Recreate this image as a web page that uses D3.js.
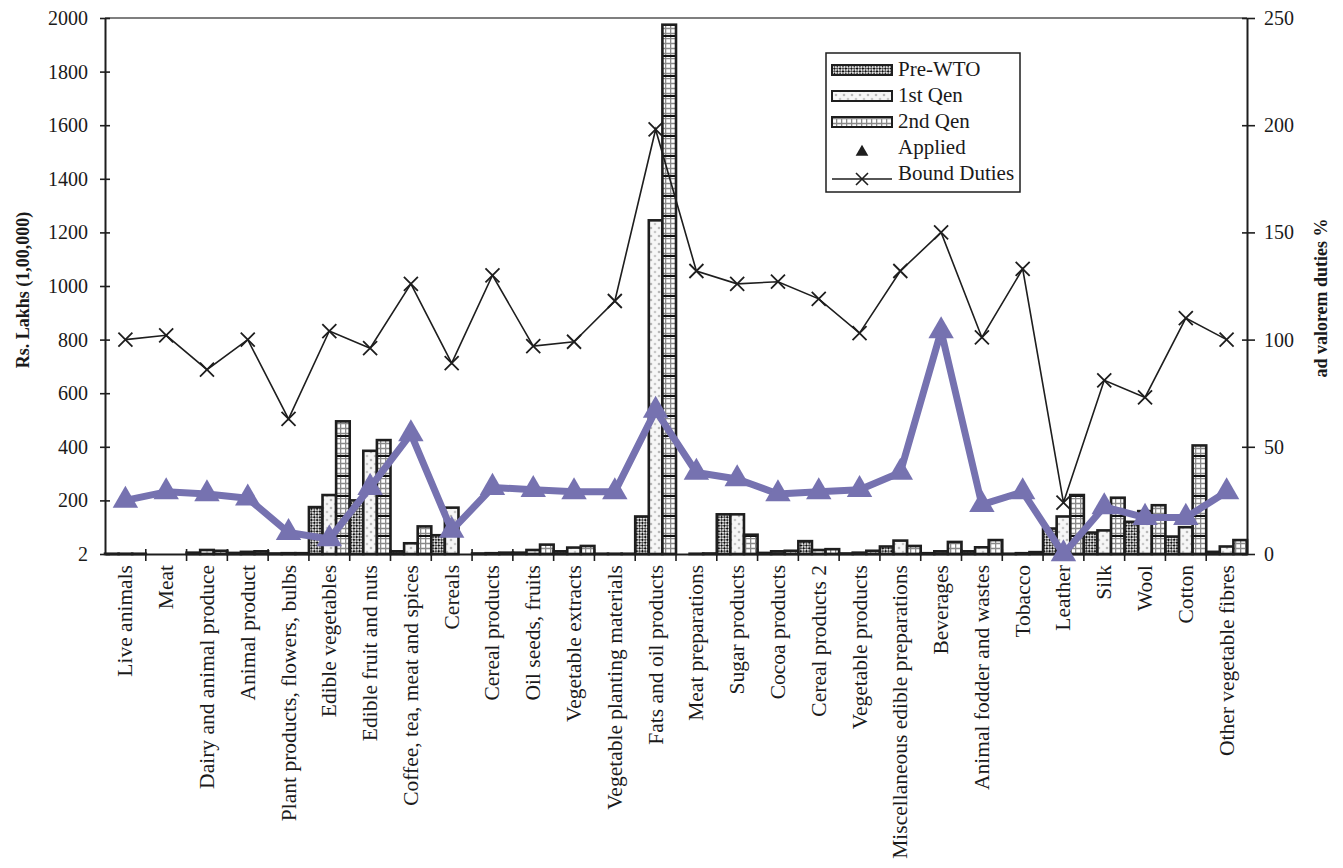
<!DOCTYPE html>
<html>
<head>
<meta charset="utf-8">
<script src="https://cdn.jsdelivr.net/npm/d3@7"></script>
<style>
  body { margin: 0; background: #fff; }
  svg text { font-family: "Liberation Serif", "Times New Roman", serif; fill: #1a1a1a; }
</style>
</head>
<body>
<div id="chart"></div>
<script>
// categories along the x axis
var categories = ['Live animals', 'Meat', 'Dairy and animal produce', 'Animal product',
  'Plant products, flowers, bulbs', 'Edible vegetables', 'Edible fruit and nuts',
  'Coffee, tea, meat and spices', 'Cereals', 'Cereal products', 'Oil seeds, fruits',
  'Vegetable extracts', 'Vegetable planting materials', 'Fats and oil products',
  'Meat preparations', 'Sugar products', 'Cocoa products', 'Cereal products 2',
  'Vegetable products', 'Miscellaneous edible preparations', 'Beverages',
  'Animal fodder and wastes', 'Tobacco', 'Leather', 'Silk', 'Wool', 'Cotton',
  'Other vegetable fibres'];

// Rs. Lakhs (left axis)
var preWTO = [1, 0, 5, 4, 2, 175, 200, 10, 70, 2, 5, 10, 1, 140, 0, 148, 4, 48, 2, 28, 3, 10, 1, 95, 80, 120, 65, 8];
var firstQen = [1, 0, 15, 8, 3, 220, 385, 40, 173, 3, 15, 24, 1, 1245, 1, 148, 10, 15, 5, 50, 10, 25, 3, 140, 88, 160, 100, 28];
var secondQen = [1, 0, 12, 10, 3, 495, 425, 103, 0, 5, 35, 30, 1, 1975, 2, 72, 12, 18, 12, 30, 45, 52, 7, 220, 210, 182, 405, 52];

// ad valorem duties % (right axis)
var applied = [25, 29, 28, 26, 10, 7, 31, 56, 11, 31, 30, 29, 29, 67, 38, 35, 28, 29, 30, 38, 104, 23, 29, 0, 22, 17, 17, 29];
var bound = [100, 102, 86, 100, 63, 104, 96, 126, 89, 130, 97, 99, 118, 198, 132, 126, 127, 119, 103, 132, 150, 101, 133, 24, 81, 73, 110, 100];

var leftTicks = [0, 200, 400, 600, 800, 1000, 1200, 1400, 1600, 1800, 2000];
var leftTickLabels = ['2', '200', '400', '600', '800', '1000', '1200', '1400', '1600', '1800', '2000'];
var rightTicks = [0, 50, 100, 150, 200, 250];

var W = 1343, H = 868;
var margin = { top: 18, right: 96, bottom: 314, left: 105 };
var w = W - margin.left - margin.right, h = H - margin.top - margin.bottom;
var purple = '#7672b0', ink = '#1e1e1e';

var svg = d3.select('#chart').append('svg')
  .attr('width', W).attr('height', H);

// fill patterns for the three bar series
var defs = svg.append('defs');
var p1 = defs.append('pattern').attr('id', 'pPre').attr('patternUnits', 'userSpaceOnUse')
  .attr('width', 4).attr('height', 4).attr('patternTransform', 'rotate(45)');
p1.append('rect').attr('width', 4).attr('height', 4).attr('fill', '#e2e2e2');
p1.append('rect').attr('width', 2).attr('height', 2).attr('fill', '#111');
p1.append('rect').attr('x', 2).attr('y', 2).attr('width', 2).attr('height', 2).attr('fill', '#444');

var p2 = defs.append('pattern').attr('id', 'pFirst').attr('patternUnits', 'userSpaceOnUse')
  .attr('width', 8).attr('height', 8);
p2.append('rect').attr('width', 8).attr('height', 8).attr('fill', '#f6f6f6');
p2.append('circle').attr('cx', 2).attr('cy', 2).attr('r', 1.3).attr('fill', '#b8b8b8');
p2.append('circle').attr('cx', 6).attr('cy', 6).attr('r', 1.3).attr('fill', '#c8c8c8');

var p3 = defs.append('pattern').attr('id', 'pSecond').attr('patternUnits', 'userSpaceOnUse')
  .attr('width', 5).attr('height', 20);
p3.append('rect').attr('width', 5).attr('height', 20).attr('fill', '#fff');
p3.append('path').attr('d', 'M0,0.5H5M0,5.5H5M0,10.5H5M0,15.5H5M0.5,0V20')
  .attr('stroke', '#8a8a8a').attr('stroke-width', 1.6);
p3.append('path').attr('d', 'M0,18H5').attr('stroke', '#111').attr('stroke-width', 2);

var g = svg.append('g').attr('transform', 'translate(' + margin.left + ',' + margin.top + ')');

var x = d3.scaleBand().domain(categories).range([0, w]).padding(0);
var xSub = d3.scaleBand().domain(['pre', 'first', 'second']).range([0, x.bandwidth()]).padding(0);
var yL = d3.scaleLinear().domain([0, 2000]).range([h, 0]);
var yR = d3.scaleLinear().domain([0, 250]).range([h, 0]);

// bars
var series = [
  { key: 'pre', values: preWTO, fill: 'url(#pPre)' },
  { key: 'first', values: firstQen, fill: 'url(#pFirst)' },
  { key: 'second', values: secondQen, fill: 'url(#pSecond)' }
];
categories.forEach(function (c, i) {
  series.forEach(function (s) {
    var v = s.values[i];
    if (v <= 0) return;
    g.append('rect')
      .attr('x', x(c) + xSub(s.key))
      .attr('y', yL(v))
      .attr('width', xSub.bandwidth())
      .attr('height', h - yL(v))
      .attr('fill', s.fill)
      .attr('stroke', ink)
      .attr('stroke-width', 2.6);
  });
});

// top frame line
g.append('line').attr('x1', 0).attr('x2', w).attr('y1', 0).attr('y2', 0)
  .attr('stroke', '#555').attr('stroke-width', 1.5);

// axes
var axL = g.append('g').call(d3.axisLeft(yL).tickValues(leftTicks)
  .tickFormat(function (d, i) { return leftTickLabels[i]; }).tickSize(5).tickSizeOuter(0));
var axR = g.append('g').attr('transform', 'translate(' + w + ',0)')
  .call(d3.axisRight(yR).tickValues(rightTicks).tickSize(8).tickSizeOuter(0));
var axB = g.append('g').attr('transform', 'translate(0,' + h + ')')
  .call(d3.axisBottom(x).tickValues([]).tickSizeOuter(0));

[axL, axR, axB].forEach(function (a) {
  a.select('.domain').attr('stroke', ink).attr('stroke-width', 2);
  a.selectAll('.tick line').attr('stroke', ink).attr('stroke-width', 1.6);
  a.selectAll('text').style('font-size', '20px').attr('fill', ink);
});
axL.selectAll('.tick line').attr('x1', 5);
axL.selectAll('text').attr('x', -17);
axR.selectAll('.tick line').attr('x1', -5);
axR.selectAll('text').attr('x', 17);

// category separator ticks and rotated labels
g.append('g').selectAll('line').data(categories.slice(1)).enter().append('line')
  .attr('x1', function (d) { return x(d); }).attr('x2', function (d) { return x(d); })
  .attr('y1', h - 5).attr('y2', h + 7)
  .attr('stroke', ink).attr('stroke-width', 1.6);

g.append('g').selectAll('text').data(categories).enter().append('text')
  .attr('transform', function (d) {
    return 'translate(' + (x(d) + x.bandwidth() / 2 + 7) + ',' + (h + 11) + ') rotate(-90)';
  })
  .attr('text-anchor', 'end')
  .style('font-size', '21.5px')
  .text(function (d) { return d; });

// axis titles
svg.append('text')
  .attr('transform', 'translate(29,290) rotate(-90)')
  .attr('text-anchor', 'middle').style('font-size', '18px').style('font-weight', 'bold')
  .text('Rs. Lakhs (1,00,000)');
svg.append('text')
  .attr('transform', 'translate(1327,298) rotate(-90)')
  .attr('text-anchor', 'middle').style('font-size', '18px').style('font-weight', 'bold')
  .text('ad valorem duties %');

// bound duties line with X markers
var cx = function (i) { return x(categories[i]) + x.bandwidth() / 2; };
g.append('path').datum(bound)
  .attr('d', d3.line().x(function (d, i) { return cx(i); }).y(function (d) { return yR(d); }))
  .attr('fill', 'none').attr('stroke', ink).attr('stroke-width', 1.6);
var xMark = 'M-7,-7L7,7M-7,7L7,-7';
g.append('g').selectAll('path').data(bound).enter().append('path')
  .attr('transform', function (d, i) { return 'translate(' + cx(i) + ',' + yR(d) + ')'; })
  .attr('d', xMark).attr('stroke', ink).attr('stroke-width', 1.8).attr('fill', 'none');

// applied duties line with triangles
g.append('path').datum(applied)
  .attr('d', d3.line().x(function (d, i) { return cx(i); }).y(function (d) { return yR(d); }))
  .attr('fill', 'none').attr('stroke', purple).attr('stroke-width', 7).attr('stroke-linejoin', 'round');
var tri = d3.symbol(d3.symbolTriangle, 280);
g.append('g').selectAll('path').data(applied).enter().append('path')
  .attr('transform', function (d, i) { return 'translate(' + cx(i) + ',' + yR(d) + ')'; })
  .attr('d', tri).attr('fill', purple);

// legend
var lg = svg.append('g').attr('transform', 'translate(826,53)');
lg.append('rect').attr('width', 194).attr('height', 139)
  .attr('fill', '#fff').attr('stroke', ink).attr('stroke-width', 1.5);
var legendItems = ['Pre-WTO', '1st Qen', '2nd Qen', 'Applied', 'Bound Duties'];
var legendFills = ['url(#pPre)', 'url(#pFirst)', 'url(#pSecond)'];
var rowY = [17, 43, 69, 95, 121];
legendItems.forEach(function (name, i) {
  var y0 = rowY[i];
  if (i < 3) {
    lg.append('rect').attr('x', 6).attr('y', y0 - 5).attr('width', 60).attr('height', 10)
      .attr('fill', legendFills[i]).attr('stroke', ink).attr('stroke-width', 2);
  } else if (i === 3) {
    lg.append('path').attr('transform', 'translate(36,' + (y0 + 4) + ')')
      .attr('d', d3.symbol(d3.symbolTriangle, 70)).attr('fill', ink);
  } else {
    lg.append('line').attr('x1', 6).attr('x2', 66).attr('y1', y0 + 5).attr('y2', y0 + 5)
      .attr('stroke', ink).attr('stroke-width', 1.5);
    lg.append('path').attr('transform', 'translate(36,' + (y0 + 5) + ')')
      .attr('d', 'M-6,-6L6,6M-6,6L6,-6').attr('stroke', ink).attr('stroke-width', 1.6);
  }
  lg.append('text').attr('x', 72).attr('y', y0 + 6).style('font-size', '21px').text(name);
});
</script>
</body>
</html>
